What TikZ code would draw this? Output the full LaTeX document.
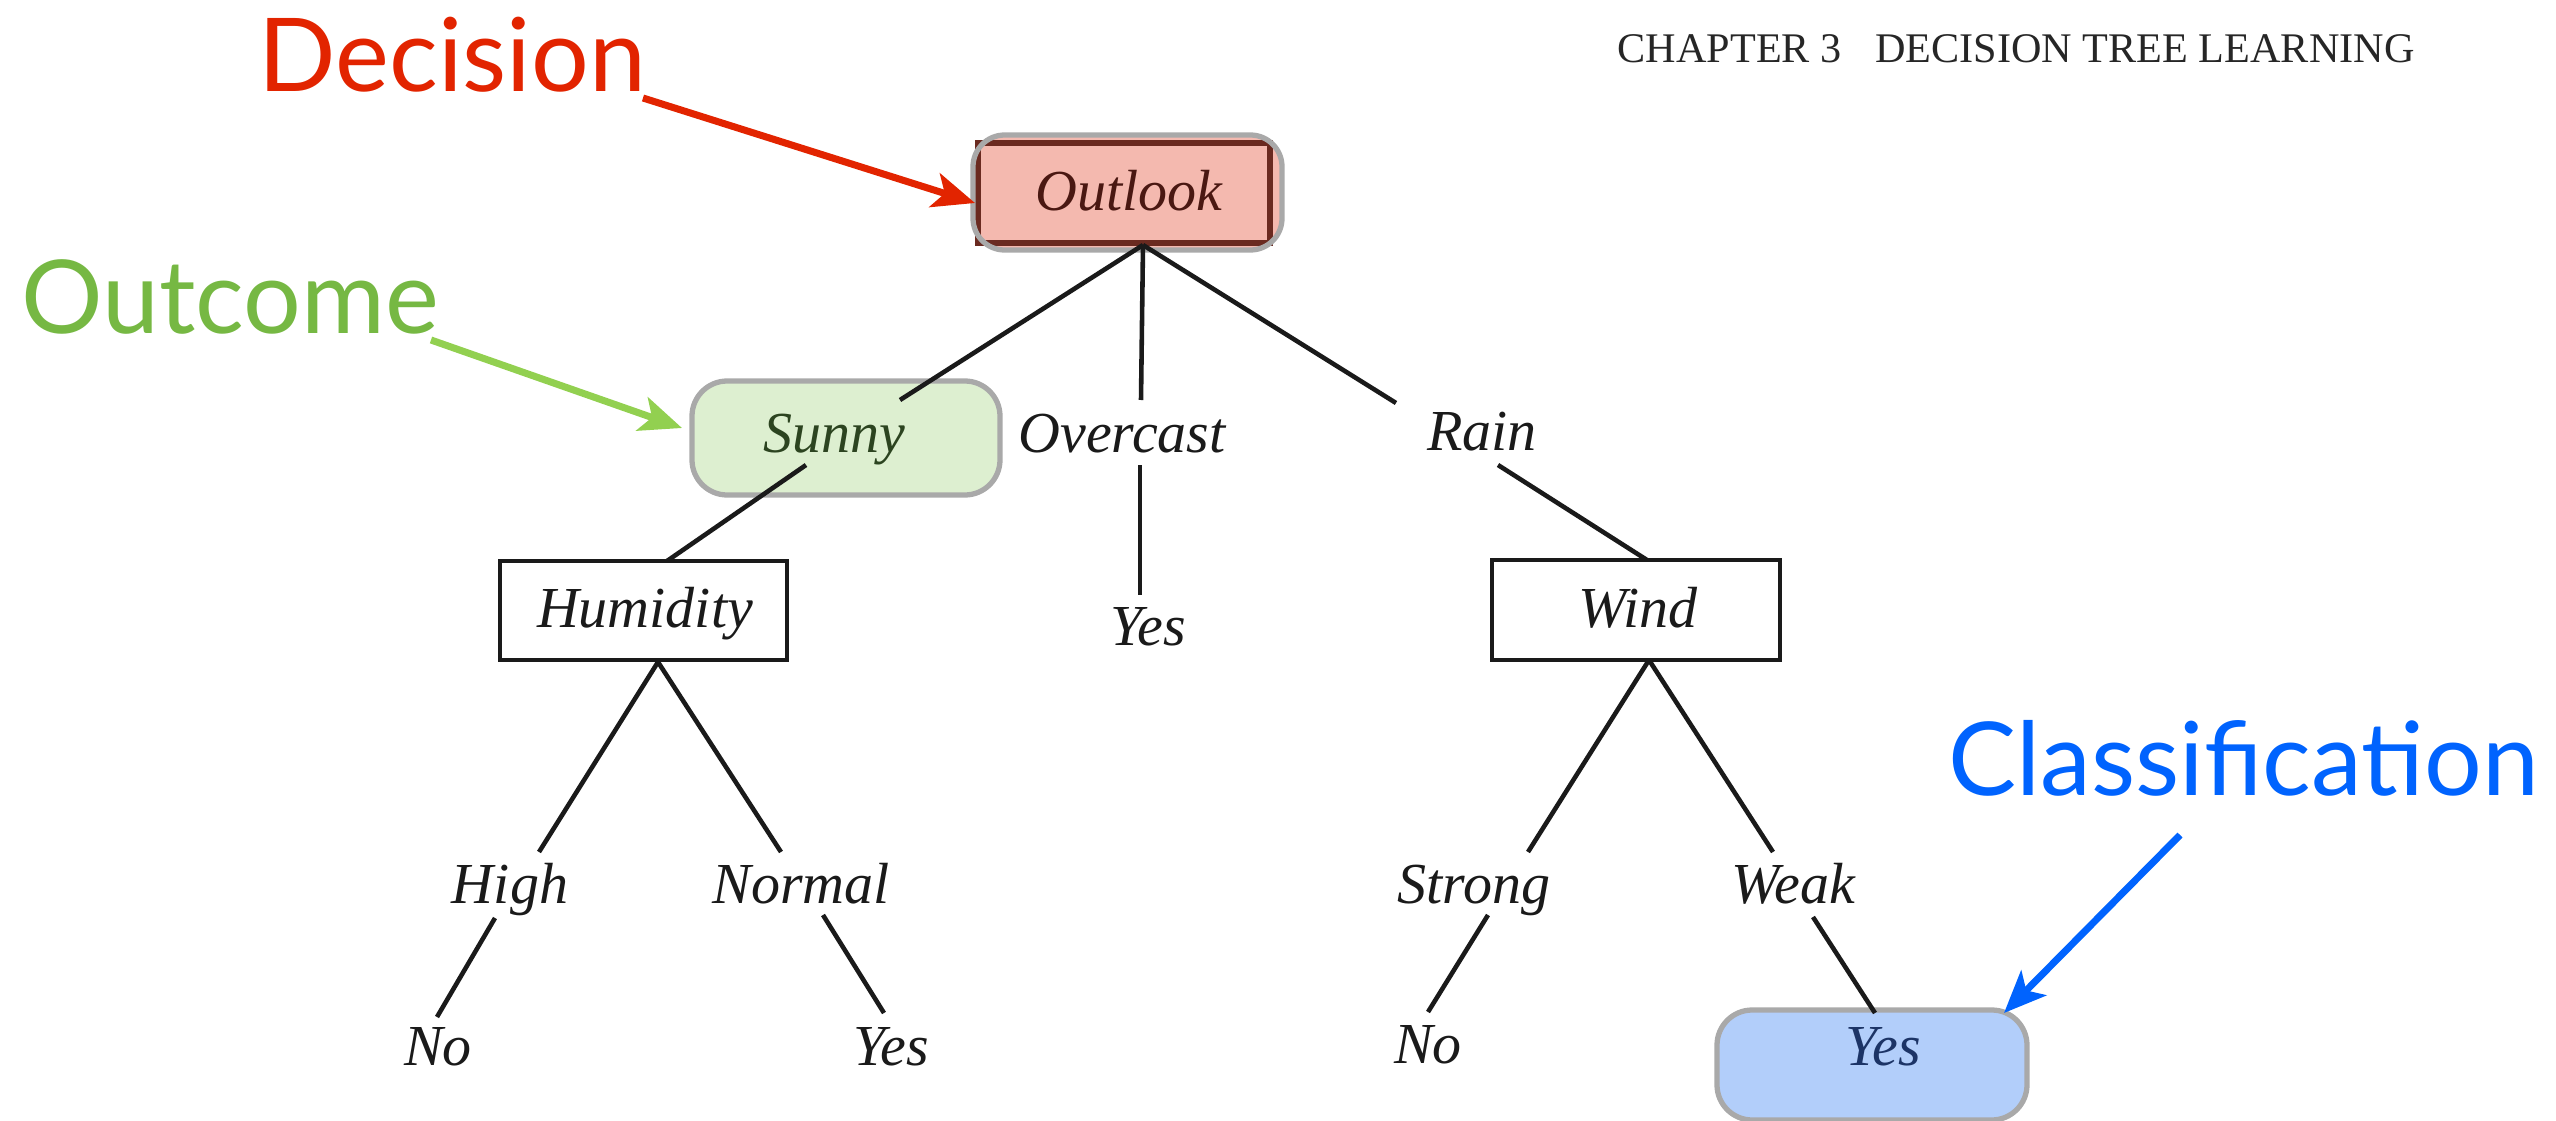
\documentclass[tikz,border=0pt]{standalone}
\usepackage{fontspec}
\setmainfont{Liberation Serif}
\newfontfamily\callout{Lato}
\usetikzlibrary{arrows.meta}

\definecolor{decred}{HTML}{E22400}
\definecolor{outgreen}{HTML}{76B843}
\definecolor{arrgreen}{HTML}{92D050}
\definecolor{clsblue}{HTML}{0063FE}
\definecolor{pinkfill}{HTML}{F4B9AF}
\definecolor{pinkedge}{HTML}{6A2A20}
\definecolor{pinkink}{HTML}{4A1812}
\definecolor{greenfill}{HTML}{DDEFD0}
\definecolor{greenink}{HTML}{2C4420}
\definecolor{bluefill}{HTML}{B2CEFA}
\definecolor{blueink}{HTML}{1C3466}
\definecolor{hiliteedge}{HTML}{A9A9A9}
\definecolor{ink}{HTML}{1A1A1A}

\tikzset{
  tlabel/.style={font=\fontsize{16.5}{18}\selectfont\itshape, text=ink, inner sep=0pt, anchor=base},
  branch/.style={draw=ink, line width=1.3pt},
  attrbox/.style={draw=ink, line width=1.4pt},
  hilite/.style={draw=hiliteedge, line width=1.5pt, rounded corners=9pt},
  callouttext/.style={font=\callout\fontsize{29}{31}\selectfont, inner sep=0pt, anchor=base west},
  pointer/.style={line width=2pt, -{Stealth[length=12pt, width=10pt, inset=3pt]}},
}

\begin{document}
\begin{tikzpicture}[x=0.01cm, y=-0.01cm]
\useasboundingbox (0,0) rectangle (2556,1121);

% running head
\node[inner sep=0pt, anchor=base west, text=black!85, font=\fontsize{12}{14}\selectfont] (head) at (1617,62)
  {CHAPTER 3\hspace{0.8em}DECISION TREE LEARNING};

% highlighted root: Outlook
\fill[pinkfill, rounded corners=9pt] (973,135) rectangle (1282,250);
\draw[draw=pinkedge, line width=1.6pt] (978,143) rectangle (1270,243);
\draw[hilite] (973,135) rectangle (1282,250);
\node[tlabel, text=pinkink] (outlook) at (1129,210) {Outlook};

% highlighted outcome: Sunny
\fill[greenfill, rounded corners=10pt] (692,381) rectangle (1000,495);
\draw[hilite, rounded corners=10pt] (692,381) rectangle (1000,495);

% highlighted classification: Yes
\fill[bluefill, rounded corners=10pt] (1717,1010) rectangle (2027,1120);
\draw[hilite, rounded corners=10pt] (1717,1010) rectangle (2027,1120);

% attribute boxes
\draw[attrbox] (500,561) rectangle (787,660);
\draw[attrbox] (1492,560) rectangle (1780,660);

% branch end points
\coordinate (o-apex) at (1143,245);
\coordinate (sunny-up) at (900,400);
\coordinate (over-up) at (1141,400);
\coordinate (rain-up) at (1396,403);
\coordinate (sunny-dn) at (806,465);
\coordinate (hum-top) at (667,561);
\coordinate (over-dn) at (1140,465);
\coordinate (yes1-up) at (1140,595);
\coordinate (rain-dn) at (1498,465);
\coordinate (wind-top) at (1647,560);
\coordinate (hum-apex) at (658,662);
\coordinate (high-up) at (539,852);
\coordinate (normal-up) at (781,852);
\coordinate (wind-apex) at (1649,660);
\coordinate (strong-up) at (1528,852);
\coordinate (weak-up) at (1773,852);
\coordinate (high-dn) at (495,918);
\coordinate (no1-up) at (437,1017);
\coordinate (normal-dn) at (823,915);
\coordinate (yes2-up) at (884,1013);
\coordinate (strong-dn) at (1488,915);
\coordinate (no2-up) at (1428,1012);
\coordinate (weak-dn) at (1813,917);
\coordinate (yes3-up) at (1875,1013);

% branches
\draw[branch] (o-apex) -- (sunny-up);
\draw[branch] (o-apex) -- (over-up);
\draw[branch] (o-apex) -- (rain-up);
\draw[branch] (sunny-dn) -- (hum-top);
\draw[branch] (over-dn) -- (yes1-up);
\draw[branch] (rain-dn) -- (wind-top);
\draw[branch] (hum-apex) -- (high-up);
\draw[branch] (hum-apex) -- (normal-up);
\draw[branch] (wind-apex) -- (strong-up);
\draw[branch] (wind-apex) -- (weak-up);
\draw[branch] (high-dn) -- (no1-up);
\draw[branch] (normal-dn) -- (yes2-up);
\draw[branch] (strong-dn) -- (no2-up);
\draw[branch] (weak-dn) -- (yes3-up);

% tree labels
\node[tlabel, text=greenink] (sunny) at (834,452) {Sunny};
\node[tlabel] (overcast) at (1122,452) {Overcast};
\node[tlabel] (rain) at (1482,450) {Rain};
\node[tlabel] (humidity) at (645,627) {Humidity};
\node[tlabel] (wind) at (1638,627) {Wind};
\node[tlabel] (yes1) at (1148,645) {Yes};
\node[tlabel] (high) at (510,903) {High};
\node[tlabel] (normal) at (801,903) {Normal};
\node[tlabel] (strong) at (1474,903) {Strong};
\node[tlabel] (weak) at (1793,903) {Weak};
\node[tlabel] (no1) at (438,1065) {No};
\node[tlabel] (yes2) at (891,1065) {Yes};
\node[tlabel] (no2) at (1428,1063) {No};
\node[tlabel, text=blueink] (yes3) at (1883,1065) {Yes};

% callouts
\node[callouttext, text=decred] (decision) at (258,91) {Decision};
\node[callouttext, text=outgreen] (outcome) at (21,333) {Outcome};
\node[callouttext, text=clsblue] (classification) at (1948,795) {Classification};

\coordinate (dec-tail) at (643,98);
\coordinate (dec-head) at (975,203);
\coordinate (out-tail) at (431,340);
\coordinate (out-head) at (682,428);
\coordinate (cls-tail) at (2180,835);
\coordinate (cls-head) at (2004,1013);

\draw[pointer, decred] (dec-tail) -- (dec-head);
\draw[pointer, arrgreen] (out-tail) -- (out-head);
\draw[pointer, clsblue] (cls-tail) -- (cls-head);
\end{tikzpicture}
\end{document}
